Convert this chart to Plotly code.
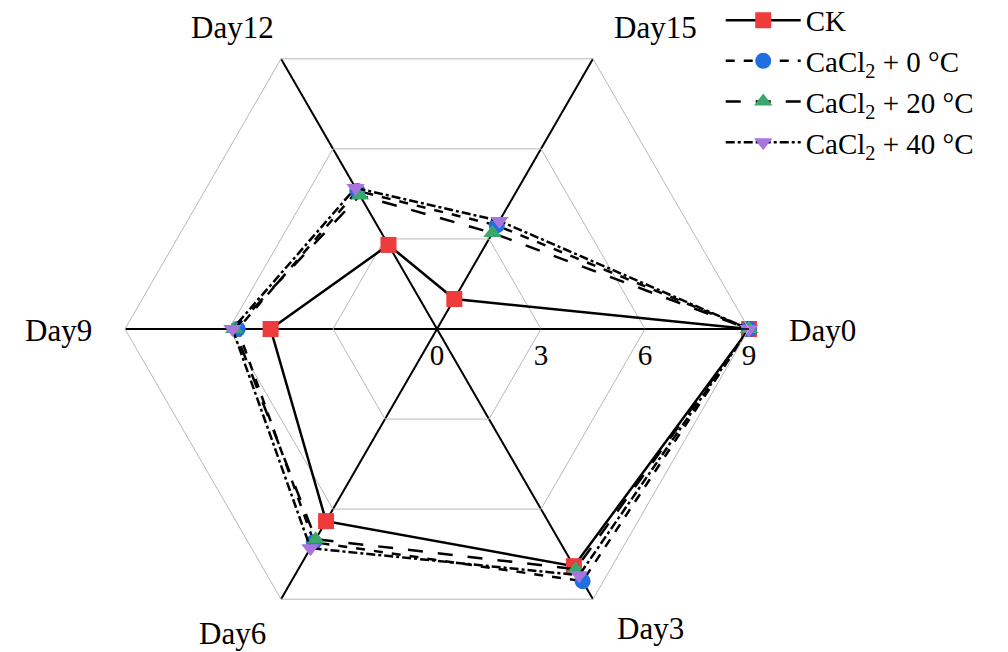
import plotly.graph_objects as go

# Storage days (angular categories)
days = ["Day0", "Day3", "Day6", "Day9", "Day12", "Day15"]

# Measured values per treatment
ck = [9.0, 7.9, 6.4, 4.8, 2.8, 1.0]
cacl2_0 = [9.0, 8.4, 7.1, 5.75, 4.6, 3.45]
cacl2_20 = [9.0, 8.0, 7.0, 5.85, 4.45, 3.2]
cacl2_40 = [9.0, 8.2, 7.3, 5.9, 4.7, 3.6]

radial_ticks = [0, 3, 6, 9]

series = [
    ("CK", ck, "square", "#ee3b3b", "solid"),
    ("CaCl<sub>2</sub> + 0 °C", cacl2_0, "circle", "#1f6fe0", "dash"),
    ("CaCl<sub>2</sub> + 20 °C", cacl2_20, "triangle-up", "#3aa86a", "longdash"),
    ("CaCl<sub>2</sub> + 40 °C", cacl2_40, "triangle-down", "#a874e0", "dashdot"),
]

FONT = "Liberation Serif, Times New Roman, serif"
FS = 31

fig = go.Figure()
for name, vals, sym, col, dash in series:
    fig.add_trace(go.Scatterpolar(
        r=vals + vals[:1],
        theta=days + days[:1],
        mode="lines+markers",
        name=name,
        line=dict(color="black", width=2.5, dash=dash),
        marker=dict(symbol=sym, size=16, color=col, line=dict(width=0)),
    ))

cx, cy, R = 437, 329, 312
W, H = 1008, 652

# Category labels placed just beyond each spoke of the hexagon
label_pos = {
    "Day0": (822, 330), "Day3": (650, 628), "Day6": (232, 633),
    "Day9": (58, 330), "Day12": (232, 28), "Day15": (655, 28),
}
annotations = [
    dict(text=d, x=label_pos[d][0] / W, y=1 - label_pos[d][1] / H,
         xref="paper", yref="paper", xanchor="center", yanchor="middle",
         showarrow=False, font=dict(family=FONT, size=FS))
    for d in days
]

fig.update_layout(
    width=W, height=H,
    margin=dict(l=0, r=0, t=0, b=0, autoexpand=False),
    paper_bgcolor="white",
    plot_bgcolor="white",
    font=dict(family=FONT, size=FS, color="black"),
    polar=dict(
        domain=dict(x=[(cx - R) / W, (cx + R) / W],
                    y=[(H - cy - R) / H, (H - cy + R) / H]),
        bgcolor="white",
        gridshape="linear",
        radialaxis=dict(
            range=[0, 9], tickvals=radial_ticks, ticktext=[str(t) for t in radial_ticks],
            angle=0, side="clockwise", tickangle=0,
            showline=True, linecolor="black", linewidth=1.5,
            gridcolor="#b8b8b8", gridwidth=1, ticks="",
            tickfont=dict(family=FONT, size=FS - 2),
        ),
        angularaxis=dict(
            categoryorder="array", categoryarray=days,
            direction="clockwise", rotation=0,
            showline=True, linecolor="#b8b8b8", linewidth=1,
            gridcolor="black", gridwidth=1.5,
            ticks="", showticklabels=False,
        ),
    ),
    annotations=annotations,
    legend=dict(
        x=0.715, y=1.008, xanchor="left", yanchor="top",
        bgcolor="rgba(0,0,0,0)", itemwidth=75,
        font=dict(family=FONT, size=FS - 2),
        tracegroupgap=0,
    ),
    showlegend=True,
)

fig.write_html("out.html")
